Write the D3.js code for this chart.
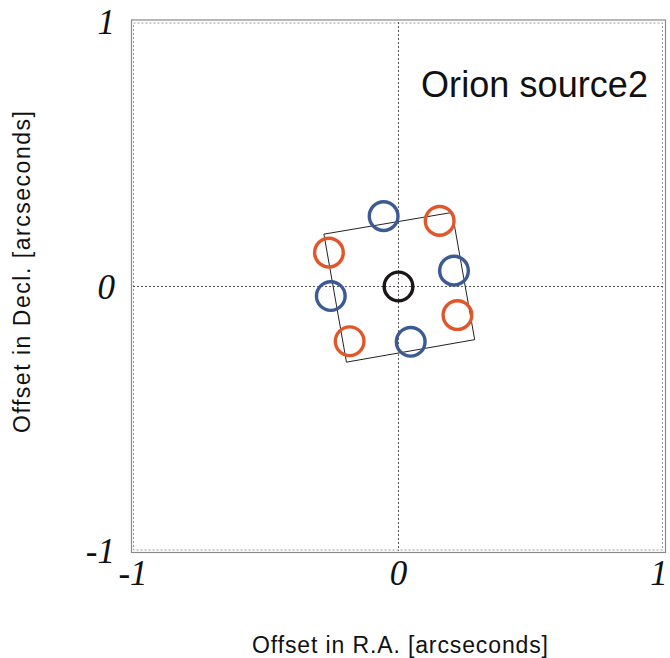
<!DOCTYPE html>
<html>
<head>
<meta charset="utf-8">
<script src="https://cdn.jsdelivr.net/npm/d3@7"></script>
<style>
  html, body { margin: 0; padding: 0; background: #ffffff; }
  svg { display: block; }
</style>
</head>
<body>
<script>
// Offsets of the spots, in arcseconds from the reference position
const redX  = [0.155, -0.262, 0.222, -0.184];
const redY  = [0.248, 0.128, -0.108, -0.207];
const blueX = [-0.056, 0.209, -0.255, 0.046];
const blueY = [0.266, 0.060, -0.036, -0.209];
const centerX = [0.0];
const centerY = [0.0];

// Corners of the rotated box
const boxX = [-0.281, 0.202, 0.287, -0.196];
const boxY = [0.198, 0.280, -0.201, -0.286];

// Ring size in arcseconds
const ringR = 0.054;

const tickValues = [-1, 0, 1];
const tickLabels = ["-1", "0", "1"];

const W = 670, H = 658;
const plotL = 133, plotR = 664, plotT = 22, plotB = 551;

const svg = d3.select("body").append("svg")
  .attr("width", W).attr("height", H);

const x = d3.scaleLinear().domain([-1, 1]).range([plotL, plotR]);
const y = d3.scaleLinear().domain([-1, 1]).range([plotB, plotT]);

// Frame: solid outer line and dotted inner line
svg.append("rect")
  .attr("x", plotL - 1.5).attr("y", plotT - 2)
  .attr("width", plotR - plotL + 3).attr("height", plotB - plotT + 3.5)
  .attr("fill", "none").attr("stroke", "#8a8a8a").attr("stroke-width", 1.2);
svg.append("rect")
  .attr("x", plotL + 0.5).attr("y", plotT + 1)
  .attr("width", plotR - plotL - 2).attr("height", plotB - plotT - 2)
  .attr("fill", "none").attr("stroke", "#9a9a9a").attr("stroke-width", 1)
  .attr("stroke-dasharray", "2,2");

// Dotted zero lines
svg.append("line")
  .attr("x1", x(0)).attr("x2", x(0)).attr("y1", y(1)).attr("y2", y(-1))
  .attr("stroke", "#555").attr("stroke-width", 1).attr("stroke-dasharray", "2,2");
svg.append("line")
  .attr("x1", x(-1)).attr("x2", x(1)).attr("y1", y(0)).attr("y2", y(0))
  .attr("stroke", "#555").attr("stroke-width", 1).attr("stroke-dasharray", "2,2");

// Tick labels
const tickFont = "'Liberation Serif', 'Times New Roman', serif";
svg.append("g").selectAll("text")
  .data(tickValues)
  .join("text")
  .attr("x", 115)
  .attr("y", d => y(d) + 12)
  .attr("text-anchor", "end")
  .attr("font-family", tickFont).attr("font-style", "italic")
  .attr("font-size", 35).attr("fill", "#111")
  .text((d, i) => tickLabels[i]);
svg.append("g").selectAll("text")
  .data(tickValues)
  .join("text")
  .attr("x", d => Math.min(x(d), W - 11))
  .attr("y", 585)
  .attr("text-anchor", "middle")
  .attr("font-family", tickFont).attr("font-style", "italic")
  .attr("font-size", 35).attr("fill", "#111")
  .text((d, i) => tickLabels[i]);

// Rotated box
const boxPts = boxX.map((v, i) => [x(v), y(boxY[i])]);
svg.append("path")
  .attr("d", d3.line()(boxPts) + "Z")
  .attr("fill", "none").attr("stroke", "#222").attr("stroke-width", 1);

// Rings
const rPix = x(ringR) - x(0);
function rings(xs, ys, color) {
  svg.append("g").selectAll("circle")
    .data(xs.map((v, i) => [v, ys[i]]))
    .join("circle")
    .attr("cx", d => x(d[0])).attr("cy", d => y(d[1]))
    .attr("r", rPix)
    .attr("fill", "none").attr("stroke", color).attr("stroke-width", 3.4);
}
rings(redX, redY, "#e2562c");
rings(blueX, blueY, "#3c5a93");
rings(centerX, centerY, "#1a1616");

// Title
const sans = "'Liberation Sans', Arial, Helvetica, sans-serif";
svg.append("text")
  .attr("x", 421).attr("y", 97)
  .attr("font-family", sans).attr("font-size", 36).attr("fill", "#111")
  .attr("textLength", 227).attr("lengthAdjust", "spacing")
  .text("Orion source2");

// Axis titles
svg.append("text")
  .attr("x", 252).attr("y", 653)
  .attr("font-family", sans).attr("font-size", 23).attr("fill", "#111")
  .attr("textLength", 296).attr("lengthAdjust", "spacing")
  .text("Offset in R.A. [arcseconds]");
svg.append("text")
  .attr("transform", "translate(30,433) rotate(-90)")
  .attr("font-family", sans).attr("font-size", 23).attr("fill", "#111")
  .attr("textLength", 322).attr("lengthAdjust", "spacing")
  .text("Offset in Decl. [arcseconds]");
</script>
</body>
</html>
